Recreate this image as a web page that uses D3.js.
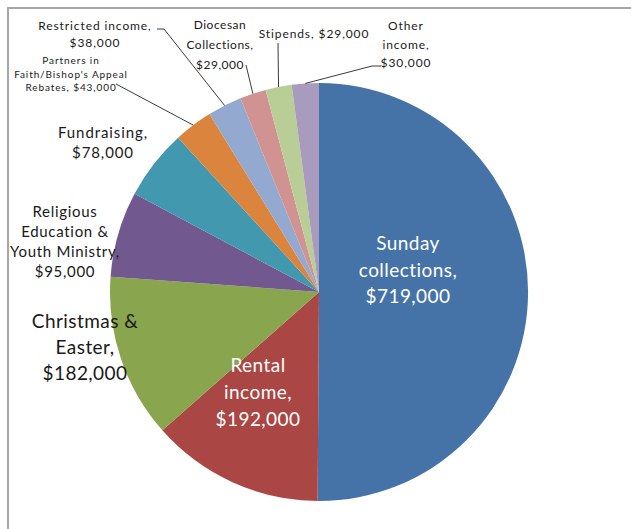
<!DOCTYPE html>
<html lang="en">
<head>
<meta charset="utf-8">
<title>Income pie</title>
<script src="https://d3js.org/d3.v7.min.js"></script>
<style>
  * { margin:0; padding:0; box-sizing:border-box; }
  body { background:#fff; width:631px; height:529px; overflow:hidden; font-family:Lato,'Open Sans',sans-serif; }
  .frame { stroke:#a6a6a6; stroke-width:2; fill:none; }
  .leader { stroke:#3a3a3a; stroke-width:1; fill:none; }
</style>
</head>
<body>
<svg id="chart" width="631" height="529"></svg>
<script>
const categories = [
  "Sunday collections", "Rental income", "Christmas & Easter",
  "Religious Education & Youth Ministry", "Fundraising",
  "Partners in Faith/Bishop's Appeal Rebates", "Restricted income",
  "Diocesan Collections", "Stipends", "Other income"
];
const values = [719000, 192000, 182000, 95000, 78000, 43000, 38000, 29000, 29000, 30000];
const colors = ["#4572A7", "#AA4643", "#89A54E", "#71588F", "#4198AF",
                "#DB843D", "#93A9CF", "#D19392", "#B9CD96", "#A99BBD"];

// label layout: words per line, anchor, text style, leader start
const labelLayout = [
  { wrap:[1,1,1],   x:408, y:250, lh:26.5, fs:19, ls:0.45, fill:"#fff" },
  { wrap:[1,1,1],   x:258, y:372, lh:27,   fs:19, ls:0.45, fill:"#fff" },
  { wrap:[2,1,1],   x:85,  y:328, lh:26,   fs:19, ls:0.45 },
  { wrap:[1,2,2,1], x:65,  y:217, lh:20,   fs:15, ls:0.7 },
  { wrap:[1,1],     x:103, y:138, lh:20,   fs:15, ls:0.9 },
  { wrap:[2,2,2],   x:71,  y:64,  lh:13.5, fs:10, ls:0.9, leader:[[116,84]] },
  { wrap:[2,1],     x:95,  y:30,  lh:17,   fs:12, ls:0.9, leader:[[157,29],[164,29]] },
  { wrap:[1,1,1],   x:220, y:29,  lh:20,   fs:12, ls:0.5, leader:[[246,65]] },
  { wrap:[2],       x:314, y:38,  lh:18,   fs:12, ls:0.9, leader:[[278,43]] },
  { wrap:[1,1,1],   x:406, y:30,  lh:18.5, fs:12, ls:0.9, leader:[[381,66],[372,66]] }
];

const cx = 319, cy = 292, radius = 209;
const fmt = d3.format("$,");

const svg = d3.select("#chart");

// frame (left + top edges only)
svg.append("path").attr("class", "frame").attr("d", "M8,529V8H631");

const pie = d3.pie().sort(null).value(d => d.value);
const arc = d3.arc().innerRadius(0).outerRadius(radius);

const data = categories.map((c, i) => ({ name:c, value:values[i], color:colors[i], layout:labelLayout[i] }));
const arcs = pie(data);

const g = svg.append("g").attr("transform", `translate(${cx},${cy})`);
g.selectAll("path.slice")
  .data(arcs)
  .join("path")
  .attr("class", "slice")
  .attr("d", arc)
  .attr("fill", d => d.data.color);

// leader lines: from label to the arc edge at the slice's mid angle
const line = d3.line();
arcs.filter(d => d.data.layout.leader).forEach(d => {
  const mid = (d.startAngle + d.endAngle) / 2;
  const end = [cx + radius * Math.sin(mid), cy - radius * Math.cos(mid)];
  svg.append("path").attr("class", "leader")
    .attr("d", line(d.data.layout.leader.concat([end])));
});

// labels
arcs.forEach(d => {
  const L = d.data.layout;
  const words = `${d.data.name}, ${fmt(d.data.value)}`.split(" ");
  const lines = [];
  let k = 0;
  L.wrap.forEach(n => { lines.push(words.slice(k, k + n).join(" ")); k += n; });
  const t = svg.append("text")
    .attr("text-anchor", "middle")
    .attr("font-size", L.fs)
    .attr("letter-spacing", L.ls || 0)
    .attr("fill", L.fill || "#1a1a1a");
  lines.forEach((s, i) => {
    t.append("tspan").attr("x", L.x).attr("y", L.y + i * L.lh).text(s);
  });
});
</script>
</body>
</html>
